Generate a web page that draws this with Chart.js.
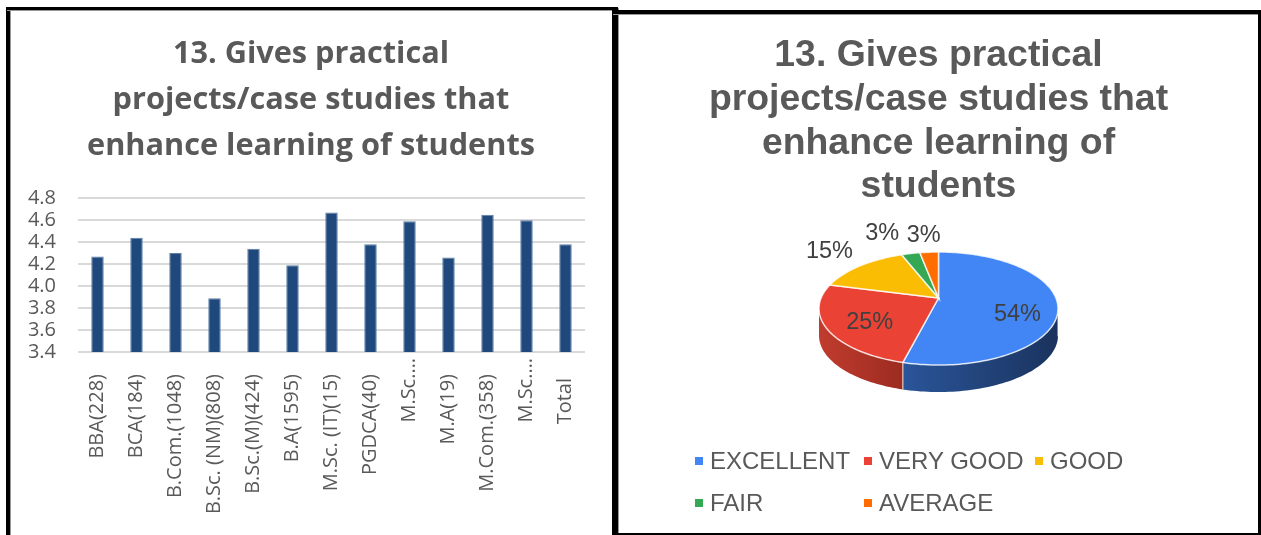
<!DOCTYPE html>
<html>
<head>
<meta charset="utf-8">
<title>13. Gives practical projects/case studies</title>
<script src="https://cdn.jsdelivr.net/npm/chart.js@4"></script>
<style>
html, body { margin: 0; padding: 0; background: #fff; }
body { position: relative; width: 1261px; height: 535px; overflow: hidden; }
canvas { position: absolute; top: 0; }
#barChart { left: 0; }
#pieChart { left: 615px; }
.frame { position: absolute; background: #000; box-shadow: 1px 1px 0 #999; }
#legend { position: absolute; left: 0; top: 0; font: 24px "Liberation Sans", Arial, sans-serif; color: #595959; }
#legend span { position: absolute; white-space: nowrap; line-height: 28px; }
#legend i { position: absolute; width: 8px; height: 8px; }
</style>
</head>
<body>
<canvas id="barChart" width="614" height="535"></canvas>
<canvas id="pieChart" width="647" height="535"></canvas>
<div id="legend"></div>
<div class="frame" style="left:6px;top:7px;width:4px;height:528px"></div>
<div class="frame" style="left:6px;top:7px;width:611px;height:3px"></div>
<div class="frame" style="left:612px;top:7px;width:6px;height:528px"></div>
<div class="frame" style="left:612px;top:10px;width:649px;height:4px"></div>
<div class="frame" style="left:618px;top:533px;width:643px;height:2px"></div>
<div class="frame" style="left:1258px;top:10px;width:3px;height:525px"></div>
<script>
// Gráfico de colunas
const cursos = ['BBA(228)', 'BCA(184)', 'B.Com.(1048)', 'B.Sc. (NM)(808)', 'B.Sc.(M)(424)', 'B.A(1595)',
    'M.Sc. (IT)(15)', 'PGDCA(40)', 'M.Sc.…', 'M.A(19)', 'M.Com.(358)', 'M.Sc.…', 'Total'];
const medias = [4.27, 4.44, 4.30, 3.89, 4.34, 4.19, 4.67, 4.38, 4.59, 4.26, 4.65, 4.60, 4.38];
const tituloBarras = ['13. Gives practical', 'projects/case studies that', 'enhance learning of students'];

// Gráfico de pizza
const notas = ['EXCELLENT', 'VERY GOOD', 'GOOD', 'FAIR', 'AVERAGE'];
const percentuais = [54, 25, 15, 3, 3];
const tituloPizza = ['13. Gives practical', 'projects/case studies that', 'enhance learning of', 'students'];

const CINZA = '#595959';
const coresTopo = ['#4285f4', '#ea4335', '#fbbc04', '#34a853', '#ff6d01'];
const coresLado = [['#2a5599', '#1a335e'], ['#c03c2e', '#9c2b20'], ['#9a7400', '#9a7400'], ['#206a34', '#206a34'], ['#a84700', '#a84700']];

// ajuste fino dos rótulos do eixo x (reticências ficam mais perto do eixo)
const xLabelShift = { 'M.Sc.…': -16, 'Total': 4 };

new Chart(document.getElementById('barChart'), {
    type: 'bar',
    data: {
        labels: cursos,
        datasets: [{ data: medias, backgroundColor: '#1f497d', borderColor: '#5d7fa8', borderWidth: 1, barPercentage: 0.32, categoryPercentage: 1 }]
    },
    plugins: [{
        id: 'xLabelShift',
        beforeDraw(chart) {
            // o eixo y é estreito por causa do título centralizado: evita cortar os rótulos
            chart.scales.y.left = 0;
            const x = chart.scales.x;
            x.getLabelItems(chart.chartArea).forEach(item => {
                if (!item.shifted) {
                    item.options.translation[1] += xLabelShift[item.label] || 0;
                    item.shifted = true;
                }
            });
        }
    }],
    options: {
        responsive: false,
        animation: false,
        layout: { padding: { left: 37, right: 29, top: 0, bottom: 0 } },
        plugins: {
            legend: { display: false },
            tooltip: { enabled: false },
            title: {
                display: true,
                text: tituloBarras,
                color: CINZA,
                font: { family: '"Open Sans"', size: 30.7, weight: 'bold', lineHeight: 1.5 },
                padding: { top: 31, bottom: 29 }
            }
        },
        scales: {
            x: {
                afterFit(scale) { scale.height = 183; },
                grid: { display: false },
                border: { display: false },
                ticks: { minRotation: 90, maxRotation: 90, autoSkip: false, padding: 14, color: CINZA, font: { family: '"Open Sans"', size: 20 } }
            },
            y: {
                min: 3.4,
                max: 4.8,
                afterFit(scale) { scale.width = 41; },
                grid: { color: '#d9d9d9', lineWidth: 2, drawTicks: false },
                border: { display: false },
                ticks: { stepSize: 0.2, autoSkip: false, padding: 22, color: CINZA, font: { family: '"Open Sans"', size: 20 }, callback: v => v.toFixed(1) }
            }
        }
    }
});

// perspectiva: o centro da pizza aparece acima do centro da elipse
const ELIPSE = 0.473, FUGA = -0.186, PROFUNDIDADE = 27;
const RAIO = 119.5;
// raio relativo e deslocamento em px de cada rótulo de percentual
const rotuloRaio = [0.7, 0.7, 1.2, 1.2, 1.2];
const rotuloDesvio = [[-4, 12], [7, 4], [-17, -9], [-24, -13], [-4, -9]];

function projeta(arc, angulo, r) {
    const t = angulo + Math.PI / 2;
    const u = r * Math.sin(t), v = -r * Math.cos(t);
    const den = 1 + FUGA * v;
    return {
        x: arc.x + arc.outerRadius * u * Math.sqrt(1 - FUGA * FUGA) / den,
        y: arc.y + arc.outerRadius * ELIPSE * (v + FUGA) / den
    };
}

function bordaArco(arc) {
    const pts = [], n = Math.max(2, Math.ceil((arc.endAngle - arc.startAngle) * 40));
    for (let i = 0; i <= n; i++) {
        pts.push(projeta(arc, arc.startAngle + (arc.endAngle - arc.startAngle) * i / n, 1));
    }
    return pts;
}

const pizza3d = {
    id: 'pizza3d',
    beforeDatasetsDraw(chart) {
        const ctx = chart.ctx, arcs = chart.getDatasetMeta(0).data;
        ctx.save();
        // parede lateral
        arcs.forEach((arc, i) => {
            const frente = bordaArco(arc).filter(p => p.y >= arc.y);
            if (frente.length < 2) return;
            const xs = frente.map(p => p.x);
            const grad = ctx.createLinearGradient(Math.min(...xs), 0, Math.max(...xs), 0);
            grad.addColorStop(0, coresLado[i][0]);
            grad.addColorStop(1, coresLado[i][1]);
            ctx.beginPath();
            frente.forEach((p, k) => k ? ctx.lineTo(p.x, p.y) : ctx.moveTo(p.x, p.y));
            frente.slice().reverse().forEach(p => ctx.lineTo(p.x, p.y + PROFUNDIDADE));
            ctx.closePath();
            ctx.fillStyle = grad;
            ctx.fill();
            ctx.strokeStyle = 'rgba(255,255,255,0.85)';
            ctx.lineWidth = 1;
            ctx.beginPath();
            ctx.moveTo(frente[0].x, frente[0].y);
            ctx.lineTo(frente[0].x, frente[0].y + PROFUNDIDADE);
            ctx.stroke();
        });
        // face superior
        arcs.forEach((arc, i) => {
            const apice = projeta(arc, 0, 0);
            ctx.beginPath();
            ctx.moveTo(apice.x, apice.y);
            bordaArco(arc).forEach(p => ctx.lineTo(p.x, p.y));
            ctx.closePath();
            ctx.fillStyle = coresTopo[i];
            ctx.fill();
            ctx.strokeStyle = 'rgba(255,255,255,0.8)';
            ctx.lineWidth = 1.5;
            ctx.stroke();
        });
        // percentuais
        ctx.fillStyle = '#404040';
        ctx.font = '23.5px "Liberation Sans"';
        ctx.textAlign = 'center';
        ctx.textBaseline = 'middle';
        arcs.forEach((arc, i) => {
            const meio = (arc.startAngle + arc.endAngle) / 2;
            const p = projeta(arc, meio, rotuloRaio[i]);
            ctx.fillText(percentuais[i] + '%', p.x + rotuloDesvio[i][0], p.y + rotuloDesvio[i][1]);
        });
        ctx.restore();
        return false;
    }
};

new Chart(document.getElementById('pieChart'), {
    type: 'pie',
    data: { labels: notas, datasets: [{ data: percentuais, backgroundColor: coresTopo, radius: RAIO }] },
    plugins: [pizza3d],
    options: {
        responsive: false,
        animation: false,
        layout: { padding: { bottom: 129 } },
        plugins: {
            legend: { display: false },
            tooltip: { enabled: false },
            title: {
                display: true,
                text: tituloPizza,
                color: CINZA,
                font: { family: '"Liberation Sans"', size: 37.4, weight: 'bold', lineHeight: 1.17 },
                padding: { top: 34, bottom: 2 }
            }
        }
    }
});

// legenda em colunas, como no original
const legendaPos = [[695, 447], [864, 447], [1035, 447], [695, 489], [864, 489]];
const legenda = document.getElementById('legend');
notas.forEach((nota, i) => {
    const [x, y] = legendaPos[i];
    const m = document.createElement('i');
    m.style.cssText = `left:${x}px;top:${y + 10}px;background:${coresTopo[i]}`;
    const s = document.createElement('span');
    s.textContent = nota;
    s.style.cssText = `left:${x + 15}px;top:${y}px`;
    legenda.append(m, s);
});
</script>
</body>
</html>
